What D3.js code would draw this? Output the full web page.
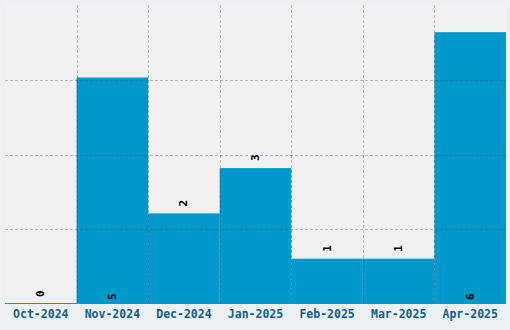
<!DOCTYPE html>
<html>
<head>
<meta charset="utf-8">
<script src="https://cdn.jsdelivr.net/npm/d3@7"></script>
<style>
  html, body { margin: 0; padding: 0; background: #edf0f1; }
  svg { display: block; }
</style>
</head>
<body>
<div id="chart"></div>
<script>
'use strict';

// ── Data ───────────────────────────────────────────────────────────────────
const months = ['Oct-2024', 'Nov-2024', 'Dec-2024', 'Jan-2025', 'Feb-2025', 'Mar-2025', 'Apr-2025'];
const counts = [0, 5, 2, 3, 1, 1, 6];

const BAR_COLOR = '#0099cc';
const FONT = '"DejaVu Sans Mono", "Liberation Mono", monospace';

// ── Layout ─────────────────────────────────────────────────────────────────
const fullW = 510, fullH = 330;
const margin = { top: 5, right: 4, bottom: 26, left: 5 };
const W = fullW - margin.left - margin.right;
const H = fullH - margin.top - margin.bottom;

const data = months.map((m, i) => ({ month: m, count: counts[i] }));
const maxVal = d3.max(counts);

const x = d3.scaleBand().domain(months).range([0, W]).padding(0);
const y = d3.scaleLinear().domain([0, maxVal * 1.1]).range([H, 0]);

const svg = d3.select('#chart').append('svg')
  .attr('width', fullW).attr('height', fullH);

const g = svg.append('g').attr('transform', `translate(${margin.left},${margin.top})`);

// Plot background
g.append('rect')
  .attr('width', W).attr('height', H)
  .attr('fill', '#f1f1f1');

// Bars
g.selectAll('rect.bar')
  .data(data)
  .join('rect')
  .attr('class', 'bar')
  .attr('x', d => x(d.month))
  .attr('y', d => y(d.count))
  .attr('width', x.bandwidth())
  .attr('height', d => H - y(d.count))
  .attr('fill', BAR_COLOR);

// Baseline
g.append('line')
  .attr('x1', 0).attr('x2', W)
  .attr('y1', H - 0.5).attr('y2', H - 0.5)
  .attr('stroke', BAR_COLOR).attr('stroke-width', 1);

// Grid (drawn over bars)
const grid = g.append('g')
  .attr('stroke', '#000').attr('stroke-opacity', 0.24)
  .attr('stroke-width', 1).attr('stroke-dasharray', '3,2');

grid.selectAll('line.h')
  .data([0.25, 0.5, 0.75].map(f => maxVal * 1.1 * f))
  .join('line')
  .attr('x1', 0).attr('x2', W)
  .attr('y1', d => Math.round(y(d)) + 0.5).attr('y2', d => Math.round(y(d)) + 0.5);

grid.selectAll('line.v')
  .data(months.slice(1))
  .join('line')
  .attr('x1', d => Math.round(x(d)) + 0.5).attr('x2', d => Math.round(x(d)) + 0.5)
  .attr('y1', 0).attr('y2', H);

// Value labels (rotated): inside bottom for tall bars, above the bar otherwise
const inside = d => d.count > maxVal * 0.6;
g.selectAll('text.val')
  .data(data)
  .join('text')
  .attr('class', 'val')
  .attr('transform', d => {
    const cx = x(d.month) + x.bandwidth() / 2;
    const cy = inside(d) ? H - 4 : y(d.count) - 7;
    return `translate(${cx},${cy}) rotate(-90)`;
  })
  .attr('text-anchor', 'start')
  .attr('dominant-baseline', 'central')
  .attr('fill', '#000')
  .attr('font-family', FONT)
  .attr('font-weight', 'bold')
  .attr('font-size', '11px')
  .text(d => d.count);

// X axis
const xAxis = g.append('g')
  .attr('transform', `translate(0,${H})`)
  .call(d3.axisBottom(x).tickSize(0).tickPadding(6));
xAxis.select('.domain').remove();
xAxis.selectAll('text')
  .attr('fill', '#0f5f8f')
  .attr('font-family', FONT)
  .attr('font-weight', 'bold')
  .attr('font-size', '11.5px');
</script>
</body>
</html>
